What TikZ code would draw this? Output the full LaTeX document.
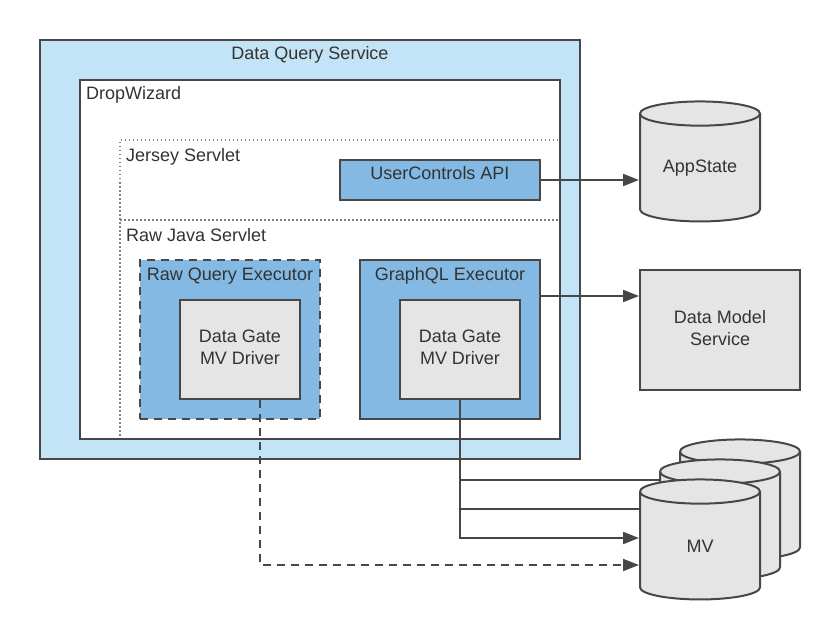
\documentclass[tikz,border=0pt]{standalone}
\usepackage{fontspec}
\setmainfont{Liberation Sans}
\usetikzlibrary{arrows.meta,shapes.geometric}
\definecolor{svcblue}{HTML}{C3E4F6}
\definecolor{exblue}{HTML}{83B9E3}
\definecolor{boxgray}{HTML}{E5E5E5}
\definecolor{linegray}{HTML}{474747}
\definecolor{textgray}{HTML}{333333}

\begin{document}
\begin{tikzpicture}[x=1pt, y=-1pt]
        \tikzset{boxes/.style={draw=linegray, line width=2pt, rectangle, inner sep=0pt,
                               text=textgray, align=center, font=\fontsize{18}{22}\selectfont},
                 lbl/.style={text=textgray, font=\fontsize{18}{22}\selectfont, inner sep=0pt, anchor=base},
                 drum/.style={boxes, cylinder, shape border rotate=90, aspect=0.22, text width=110pt,
                              minimum width=120pt, minimum height=120pt, cylinder uses custom fill,
                              cylinder body fill=boxgray, cylinder end fill=boxgray},
                 link/.style={draw=linegray, line width=2pt},
                 tip/.style={-{Triangle[length=16pt, width=12pt]}},
                 dots/.style={draw=gray, line width=1.5pt, dash pattern=on 1.5pt off 2.5pt}}
        \useasboundingbox (0,0) rectangle (840,639);
        % service and containers
        \node [boxes, fill=svcblue, minimum width=540pt, minimum height=419pt] (dqs) at (310,249.5){};
        \node [boxes, fill=white, minimum width=480pt, minimum height=359pt] (dw) at (320,259.5){};
        \draw [dots] (558,140) -- (120,140) -- (120,437);
        \draw [dots] (120,220) -- (558,220);
        \node [boxes, fill=exblue, minimum width=200pt, minimum height=40pt] (uca) at (440,180){};
        \node [boxes, fill=exblue, dash pattern=on 8pt off 6pt,
               minimum width=180pt, minimum height=159pt] (rqe) at (230,339.5){};
        \node [boxes, fill=exblue, minimum width=180pt, minimum height=159pt] (gqe) at (450,339.5){};
        \node [boxes, fill=boxgray, text depth=5pt, minimum width=120pt, minimum height=99pt] (dgr) at (240,349.5){Data Gate\\MV Driver};
        \node [boxes, fill=boxgray, text depth=5pt, minimum width=120pt, minimum height=99pt] (dgq) at (460,349.5){Data Gate\\MV Driver};
        % labels
        \node [lbl]                  (dqsl) at (310,60)    {Data Query Service};
        \node [lbl, anchor=base west] (dwl)  at (86,99.5)  {DropWizard};
        \node [lbl, anchor=base west] (jsl)  at (126,161.7) {Jersey Servlet};
        \node [lbl, anchor=base west] (rjl)  at (126,241.7) {Raw Java Servlet};
        \node [lbl]                  (ucal) at (440,180)   {UserControls API};
        \node [lbl]                  (rqel) at (230,280)   {Raw Query Executor};
        \node [lbl]                  (gqel) at (450,280)   {GraphQL Executor};
        % outside services
        \node [drum] (app) at (700,168){AppState};
        \node [boxes, fill=boxgray, text depth=5pt, minimum width=160pt, minimum height=120pt] (dms) at (720,330){Data Model\\Service};
        \node [drum] (mv3) at (740,506){};
        \node [drum] (mv2) at (720,526){};
        \node [drum] (mv1) at (700,546){MV};
        % connectors
        \draw [link, tip] (uca.east) -- (uca.east -| app.west);
        \draw [link, tip] (gqe.east |- 0,296) -- (dms.west |- 0,296);
        \draw [link] (dgq.south) |- (mv2.west |- 0,480);
        \draw [link] (dgq.south |- 0,509) -- (mv1.west |- 0,509);
        \draw [link, tip] (dgq.south) |- (mv1.west |- 0,538);
        \draw [link, tip, dash pattern=on 8pt off 6pt] ([xshift=20pt]dgr.south) |- (mv1.west |- 0,565);
    \end{tikzpicture}
\end{document}
